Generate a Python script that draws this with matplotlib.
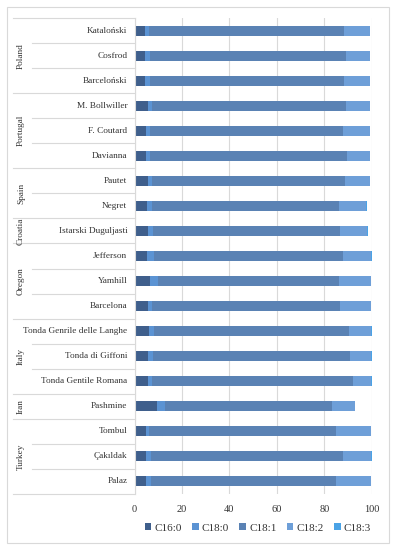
import matplotlib.pyplot as plt
import numpy as np

# Varieties, top to bottom
varieties = ["Kataloński", "Cosfrod", "Barceloński", "M. Bollwiller", "F. Coutard",
             "Davianna", "Pautet", "Negret", "Istarski Duguljasti", "Jefferson",
             "Yamhill", "Barcelona", "Tonda Genrile delle Langhe", "Tonda di Giffoni",
             "Tonda Gentile Romana", "Pashmine", "Tombul", "Çakıldak", "Palaz"]

# country groups: (name, number of varieties)
countries = ["Poland", "Portugal", "Spain", "Croatia", "Oregon", "Italy", "Iran", "Turkey"]
country_sizes = [3, 3, 2, 1, 3, 3, 1, 3]

# fatty acid composition (%)
c16_0 = [4.4, 4.4, 4.4, 5.5, 4.9, 4.7, 5.5, 5.1, 5.5, 5.3, 6.5, 5.5, 6.3, 5.5, 5.5, 9.3, 4.8, 4.7, 4.7]
c18_0 = [1.9, 2.2, 2.1, 2.0, 1.6, 1.8, 1.7, 2.4, 2.4, 3.0, 3.5, 2.0, 2.1, 2.4, 2.0, 3.6, 1.5, 2.3, 2.3]
c18_1 = [82.1, 82.5, 82.0, 81.5, 81.6, 83.2, 81.6, 78.8, 78.8, 79.4, 76.3, 79.3, 82.2, 83.0, 84.8, 70.3, 78.6, 81.0, 77.9]
c18_2 = [10.8, 10.1, 10.7, 10.2, 11.1, 9.5, 10.4, 11.5, 11.5, 12.1, 13.2, 12.8, 9.2, 8.9, 7.5, 9.6, 14.8, 11.8, 14.8]
c18_3 = [0.2, 0.2, 0.2, 0.2, 0.2, 0.2, 0.2, 0.2, 0.2, 0.2, 0.2, 0.2, 0.2, 0.2, 0.2, 0.2, 0.2, 0.2, 0.2]

series = [("C16:0", c16_0, "#3f5f8c"),
          ("C18:0", c18_0, "#5b93d3"),
          ("C18:1", c18_1, "#5a82b4"),
          ("C18:2", c18_2, "#6e9fd8"),
          ("C18:3", c18_3, "#4aa3e6")]

plt.rcParams['font.family'] = ['Liberation Serif', 'DejaVu Serif']

fig = plt.figure(figsize=(3.97, 5.5), dpi=100)
W, H = 397, 550
ax = fig.add_axes([134.5 / W, 56 / H, (371.7 - 134.5) / W, (494 - 18) / H])

y = np.arange(len(varieties))
left = np.zeros(len(varieties))
for name, vals, col in series:
    ax.barh(y, vals, left=left, height=0.4, color=col, label=name, zorder=2)
    left += np.array(vals)

ax.set_xlim(0, 100)
ax.set_ylim(len(varieties) - 0.5, -0.5)
ax.set_xticks([0, 20, 40, 60, 80, 100])
ax.tick_params(axis='x', length=0, labelsize=7.5, colors='#333333', pad=8)
ax.set_yticks([])
ax.grid(axis='x', color='#d9d9d9', linewidth=0.8, zorder=0)
for s in ['top', 'right', 'bottom']:
    ax.spines[s].set_visible(False)
ax.spines['left'].set_color('#d9d9d9')
ax.spines['left'].set_linewidth(0.8)

# category labels and group structure drawn in axes-fraction x / data y
trans = ax.get_yaxis_transform()
x_short = (32 - 134.5) / (371.7 - 134.5)
x_long = (13 - 134.5) / (371.7 - 134.5)
x_group = (21 - 134.5) / (371.7 - 134.5)
for i, v in enumerate(varieties):
    ax.text(-0.03, i, v, transform=trans, ha='right', va='center', fontsize=6.7, color='#333333')

start = 0
ax.plot([x_long, 0], [-0.5, -0.5], transform=trans, color='#d9d9d9', lw=0.8, clip_on=False)
for cname, n in zip(countries, country_sizes):
    for k in range(1, n):
        yy = start + k - 0.5
        ax.plot([x_short, 0], [yy, yy], transform=trans, color='#d9d9d9', lw=0.8, clip_on=False)
    end = start + n - 0.5
    ax.plot([x_long, 0], [end, end], transform=trans, color='#d9d9d9', lw=0.8, clip_on=False)
    ax.text(x_group, start + (n - 1) / 2, cname, transform=trans, rotation=90,
            ha='center', va='center', fontsize=6.7, color='#333333')
    start += n

leg = ax.legend(loc='center', bbox_to_anchor=(0.52, (494 - 528) / 476), ncol=5, frameon=False,
                fontsize=8, handlelength=0.6, handleheight=0.6, handletextpad=0.3,
                columnspacing=0.9, labelcolor='#333333')

# outer frame
fig.patches.append(plt.Rectangle((7 / W, 7 / H), (389 - 7) / W, (543 - 7) / H,
                                 transform=fig.transFigure, fill=False,
                                 edgecolor='#d9d9d9', linewidth=0.8))

plt.savefig("out.png", dpi=100)
